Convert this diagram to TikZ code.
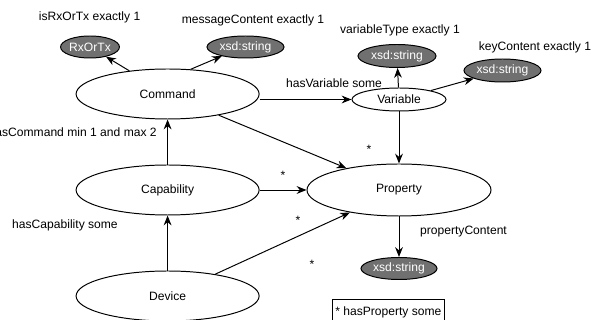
\documentclass[tikz,border=0pt]{standalone}
\usepackage{fontspec}
\setmainfont{Liberation Sans}
\usepackage{tikz}
\usetikzlibrary{positioning,shapes.geometric,arrows.meta}
\definecolor{litgray}{RGB}{112,112,112}

\begin{document}
\begin{tikzpicture}[
    font=\fontsize{8.6}{10}\selectfont,
    cls/.style={ellipse, draw=black, line width=0.7pt, fill=white, inner sep=0pt,
      minimum width=4.575cm, minimum height=1.25cm},
    lit/.style={ellipse, draw=black, line width=0.7pt, fill=litgray, text=white,
      inner sep=0pt, minimum width=1.925cm, minimum height=0.55cm},
    lbl/.style={inner sep=0pt},
    arrow/.style={-{Stealth[length=7pt,width=5.5pt]}, line width=0.7pt}
  ]
    \useasboundingbox (0,0) rectangle (14.775,8);
    \node[cls] (CMD) at (4.19,5.65) {Command};
    \node[cls] (CAP) at (4.19,3.25) {Capability};
    \node[cls] (DEV) at (4.19,0.6) {Device};
    \node[cls, minimum width=4.6cm, minimum height=1.3cm] (PROP) at (9.975,3.25) {Property};
    \node[cls, minimum width=2.35cm, minimum height=0.575cm] (VAR) at (9.975,5.5125) {Variable};
    \node[lit, minimum width=1.2cm] (RXTX) at (2.25,6.825) {RxOrTx};
    \node[lit] (MSGSTR) at (6.1375,6.825) {xsd:string};
    \node[lit, minimum width=1.95cm, minimum height=0.575cm] (TYPESTR) at (9.925,6.6) {xsd:string};
    \node[lit, minimum height=0.575cm] (KEYSTR) at (12.5625,6.2375) {xsd:string};
    \node[lit, minimum width=1.9cm] (PROPSTR) at (9.975,1.2875) {xsd:string};
    \node[draw=black, line width=0.5pt, minimum width=2.8cm, minimum height=0.65cm,
      inner sep=2pt, anchor=west] (NOTE) at (8.3,0.2) {* hasProperty some};
    \node[lbl] (L1) at (2.24,7.575) {isRxOrTx exactly 1};
    \node[lbl] (L2) at (6.325,7.5) {messageContent exactly 1};
    \node[lbl] (L3) at (10.0,7.25) {variableType exactly 1};
    \node[lbl] (L4) at (13.375,6.825) {keyContent exactly 1};
    \node[lbl] (L5) at (8.35,5.925) {hasVariable some};
    \node[lbl, anchor=east] (L6) at (3.925,4.7) {hasCommand min 1 and max 2};
    \node[lbl] (L7) at (1.625,2.375) {hasCapability some};
    \node[lbl] (L8) at (11.5875,2.2) {propertyContent};
    \node[lbl] (S1) at (9.225,4.255) {*};
    \node[lbl] (S2) at (7.075,3.605) {*};
    \node[lbl] (S3) at (7.45,2.48) {*};
    \node[lbl] (S4) at (7.8,1.38) {*};
    \draw[arrow] (CMD) -- (RXTX);
    \draw[arrow] (CMD.47) -- (MSGSTR.201);
    \draw[arrow] (VAR.west -| CMD.east) -- (VAR.west);
    \draw[arrow] (CMD) -- (PROP);
    \draw[arrow] (VAR) -- (TYPESTR);
    \draw[arrow] (VAR) -- (KEYSTR);
    \draw[arrow] (VAR) -- (PROP);
    \draw[arrow] (CAP) -- (CMD);
    \draw[arrow] (DEV) -- (CAP);
    \draw[arrow] (CAP) -- (PROP);
    \draw[arrow] (DEV) -- (PROP);
    \draw[arrow] (PROP) -- (PROPSTR);
  \end{tikzpicture}
\end{document}
